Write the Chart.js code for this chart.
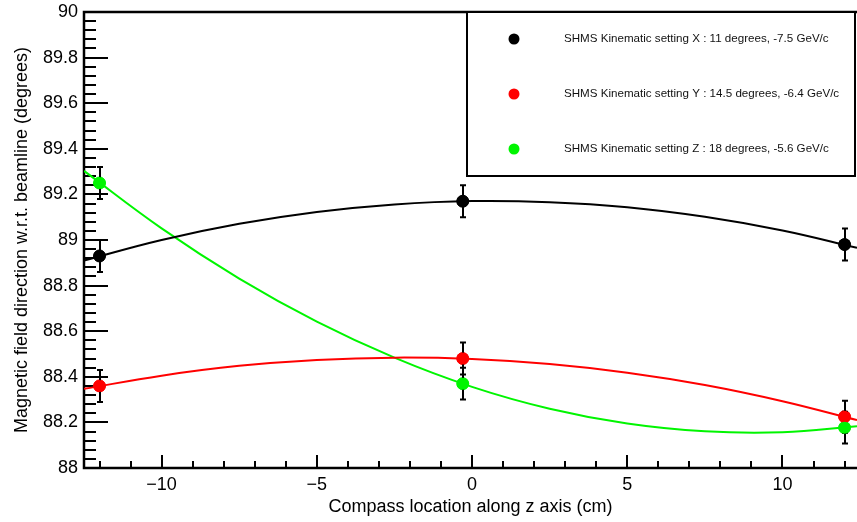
<!DOCTYPE html>
<html>
<head>
<meta charset="utf-8">
<script src="https://cdn.jsdelivr.net/npm/chart.js@4"></script>
<style>
  html, body { margin: 0; padding: 0; background: #fff; overflow: hidden; }
  #wrap { position: relative; width: 857px; height: 522px; }
</style>
</head>
<body>
<div id="wrap"><canvas id="fieldChart" width="857" height="522"></canvas></div>
<script>
// compass positions along z (cm)
const positions = [-12, -0.3, 12];

// measured field direction (degrees) for each SHMS setting
const angleX = [88.93, 89.17, 88.98];
const angleY = [88.36, 88.48, 88.225];
const angleZ = [89.25, 88.37, 88.177];
const errX = [0.07, 0.07, 0.07];
const errY = [0.07, 0.07, 0.07];
const errZ = [0.07, 0.07, 0.07];

// fitted curves, sampled along z
const fitZ = [-12.5, -10, -7.5, -5, -2.5, 0, 2.5, 5, 7.5, 10, 12.4];
const fitX = [88.91, 89.0, 89.071, 89.123, 89.156, 89.171, 89.166, 89.144, 89.102, 89.042, 88.966];
const fitY = [88.347, 88.405, 88.448, 88.474, 88.484, 88.478, 88.456, 88.418, 88.364, 88.293, 88.21];
const fitG = [89.303, 89.051, 88.831, 88.642, 88.484, 88.356, 88.26, 88.195, 88.161, 88.157, 88.183];

const labels = [
  'SHMS Kinematic setting X : 11 degrees, -7.5 GeV/c',
  'SHMS Kinematic setting Y : 14.5 degrees, -6.4 GeV/c',
  'SHMS Kinematic setting Z : 18 degrees, -5.6 GeV/c'
];
const colors = ['#000000', '#ff0000', '#00f500'];

const yTicks = [88, 88.2, 88.4, 88.6, 88.8, 89, 89.2, 89.4, 89.6, 89.8, 90];

const FONT = '"Liberation Sans", Arial, sans-serif';
const toXY = (xs, ys) => xs.map((x, i) => ({ x: x, y: ys[i] }));

function fitSet(ys, color) {
  return {
    type: 'line', data: toXY(fitZ, ys), borderColor: color, borderWidth: 2,
    pointRadius: 0, tension: 0.4, fill: false, order: 2
  };
}
function pointSet(ys, errs, color) {
  return {
    type: 'scatter', data: toXY(positions, ys), errors: errs,
    backgroundColor: color, borderColor: color, pointRadius: 6, order: 1
  };
}

// ROOT-like frame: thick axes, ticks pointing inward, error bars, legend box
const framePlugin = {
  id: 'frame',
  beforeDatasetsDraw(chart) {
    const ctx = chart.ctx;
    const xs = chart.scales.x, ys = chart.scales.y;
    const a = chart.chartArea;
    ctx.save();
    ctx.strokeStyle = '#000';
    ctx.lineWidth = 2;
    // y ticks
    for (let v = 88; v <= 90.001; v += 0.04) {
      const py = Math.round(ys.getPixelForValue(v));
      const major = Math.abs(v * 5 - Math.round(v * 5)) < 1e-6;
      ctx.beginPath();
      ctx.moveTo(a.left, py);
      ctx.lineTo(a.left + (major ? 24 : 12), py);
      ctx.stroke();
    }
    // x ticks
    for (let v = -12; v <= 12; v += 1) {
      const px = Math.round(xs.getPixelForValue(v));
      const major = v % 5 === 0;
      ctx.beginPath();
      ctx.moveTo(px, a.bottom);
      ctx.lineTo(px, a.bottom - (major ? 13 : 7));
      ctx.stroke();
    }
    ctx.lineWidth = 2.5;
    ctx.beginPath();
    ctx.moveTo(a.right + 2, a.top);
    ctx.lineTo(a.left, a.top);
    ctx.lineTo(a.left, a.bottom);
    ctx.lineTo(a.right + 2, a.bottom);
    ctx.stroke();
    ctx.restore();
  },
  afterDatasetsDraw(chart) {
    const ctx = chart.ctx;
    const xs = chart.scales.x, ys = chart.scales.y;
    ctx.save();
    ctx.strokeStyle = '#000';
    ctx.lineWidth = 2;
    chart.data.datasets.forEach(ds => {
      if (!ds.errors) return;
      ds.data.forEach((p, i) => {
        const px = Math.round(xs.getPixelForValue(p.x));
        const top = ys.getPixelForValue(p.y + ds.errors[i]);
        const bot = ys.getPixelForValue(p.y - ds.errors[i]);
        ctx.beginPath();
        ctx.moveTo(px, top); ctx.lineTo(px, bot);
        ctx.moveTo(px - 3, top); ctx.lineTo(px + 3, top);
        ctx.moveTo(px - 3, bot); ctx.lineTo(px + 3, bot);
        ctx.stroke();
      });
    });
    // markers again so they sit on top of the bars
    chart.data.datasets.forEach(ds => {
      if (!ds.errors) return;
      ctx.fillStyle = ds.backgroundColor;
      ds.data.forEach(p => {
        ctx.beginPath();
        ctx.arc(xs.getPixelForValue(p.x), ys.getPixelForValue(p.y), 6, 0, Math.PI * 2);
        ctx.fill();
      });
    });

    // legend box
    const bx = 467, by = 12, bw = 388, bh = 164;
    ctx.fillStyle = '#fff';
    ctx.fillRect(bx, by, bw, bh);
    ctx.lineWidth = 2;
    ctx.strokeRect(bx, by, bw, bh);
    ctx.font = '11.6px ' + FONT;
    ctx.textBaseline = 'middle';
    ctx.textAlign = 'left';
    labels.forEach((t, i) => {
      const ly = 39 + i * 55;
      ctx.fillStyle = colors[i];
      ctx.beginPath();
      ctx.arc(514, ly, 5.5, 0, Math.PI * 2);
      ctx.fill();
      ctx.fillStyle = '#111';
      ctx.fillText(t, 564, ly);
    });
    ctx.restore();
  }
};

new Chart(document.getElementById('fieldChart'), {
  data: {
    datasets: [
      fitSet(fitX, colors[0]), fitSet(fitY, colors[1]), fitSet(fitG, colors[2]),
      pointSet(angleX, errX, colors[0]), pointSet(angleY, errY, colors[1]), pointSet(angleZ, errZ, colors[2])
    ]
  },
  options: {
    responsive: false,
    animation: false,
    devicePixelRatio: 1,
    layout: { autoPadding: false, padding: { top: 12, right: 0, left: 0, bottom: 0 } },
    plugins: { legend: { display: false }, tooltip: { enabled: false } },
    scales: {
      x: {
        type: 'linear', min: -12.5, max: 12.4,
        grid: { display: false, drawTicks: false },
        border: { display: false },
        afterFit: s => { s.height = 54; s.paddingLeft = 0; s.paddingRight = 0; },
        ticks: {
          stepSize: 5, includeBounds: false, padding: 6, color: '#000',
          font: { family: FONT, size: 18 },
          callback: v => (v < 0 ? '\u2212' + Math.abs(v) : String(v))
        },
        title: {
          display: true, text: 'Compass location along z axis (cm)', color: '#000',
          font: { family: FONT, size: 18 },
          padding: { top: 0, bottom: 4 }
        }
      },
      y: {
        type: 'linear', min: 88, max: 90,
        grid: { display: false, drawTicks: false },
        border: { display: false },
        afterFit: s => { s.width = 84; s.paddingTop = 0; s.paddingBottom = 0; },
        afterBuildTicks: s => { s.ticks = yTicks.map(v => ({ value: v })); },
        ticks: {
          padding: 6, color: '#000',
          font: { family: FONT, size: 18 },
          callback: v => String(Number(v.toFixed(1)))
        },
        title: {
          display: true, text: 'Magnetic field direction w.r.t. beamline (degrees)', color: '#000',
          font: { family: FONT, size: 18 },
          padding: { top: 11, bottom: 0 }
        }
      }
    }
  },
  plugins: [framePlugin]
});
</script>
</body>
</html>
